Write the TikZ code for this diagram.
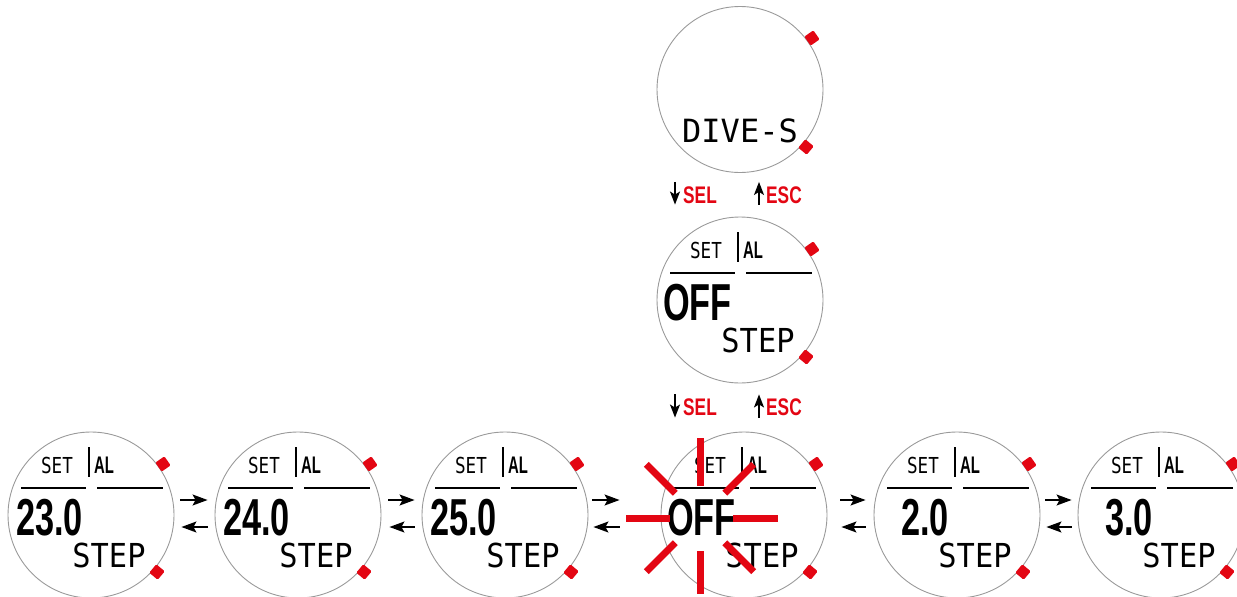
\documentclass[tikz,border=0pt]{standalone}
\usepackage{fontspec}
\setmainfont{Liberation Sans}
\newfontfamily\lcdmono{DejaVu Sans Mono}
\usetikzlibrary{arrows.meta}
\definecolor{wred}{HTML}{E30613}
\definecolor{wgray}{HTML}{9A9A9A}
\newcommand\lcdset{\scalebox{0.8}[1]{\lcdmono\fontsize{22}{22}\selectfont SET}}
\newcommand\lcdal{\scalebox{0.62}[1]{\bfseries\fontsize{24}{24}\selectfont AL}}
\newcommand\lcdstep{\scalebox{0.92}[1]{\lcdmono\fontsize{33}{33}\selectfont STEP}}
\newcommand\lcdnum[1]{\scalebox{0.66}[1]{\bfseries\fontsize{52}{52}\selectfont #1}}
\newcommand\keylbl[1]{\scalebox{0.72}[1]{\bfseries\fontsize{24}{24}\selectfont #1}}
\tikzset{
  watch/.style={circle, draw=wgray, line width=0.9pt, minimum size=166pt, inner sep=0pt},
  btn/.style={fill=wred, minimum size=11pt, inner sep=0pt, rounded corners=1.2pt},
  lcd/.style={inner sep=0pt, text=black},
  rulel/.style={line width=1.4pt, black},
  barl/.style={line width=1.8pt, black},
  navarrow/.style={line width=1.4pt, -{Stealth[length=15pt,width=11pt,inset=3pt]}},
  keyarrow/.style={line width=1.5pt, -{Stealth[length=13pt,width=10pt,inset=3pt]}},
  keytext/.style={inner sep=0pt, text=wred, anchor=west},
  ray/.style={wred, line width=7pt}
}
\newcommand\drawwatch[4]{%
  \node[watch] (#1) at (#2,#3) {};
  \node[btn, rotate=35] (#1-up) at ({#2+72},{#3-51}) {};
  \node[btn, rotate=-40] (#1-dn) at ({#2+66},{#3+57}) {};
  \node[lcd] (#1-set) at ({#2-34},{#3-50}) {\lcdset};
  \draw[barl] ({#2-2},{#3-68}) -- ({#2-2},{#3-38});
  \node[lcd] (#1-al) at ({#2+13},{#3-50}) {\lcdal};
  \draw[rulel] ({#2-70},{#3-27}) -- ({#2-5},{#3-27});
  \draw[rulel] ({#2+6},{#3-27}) -- ({#2+72},{#3-27});
  \node[lcd, anchor=east] (#1-num) at ({#2-8},{#3+3}) {\lcdnum{#4}};
  \node[lcd] (#1-step) at ({#2+18},{#3+40}) {\lcdstep};
}
\begin{document}
\begin{tikzpicture}[x=1pt, y=-1pt]
\useasboundingbox (0,0) rectangle (1237,597);
% top watch
\node[watch] (w0) at (740,89.5) {};
\node[btn, rotate=35] (w0-up) at (812,38) {};
\node[btn, rotate=-40] (w0-dn) at (806,147) {};
\node[lcd] (w0-txt) at (740,131) {\lcdmono\fontsize{32}{32}\selectfont DIVE-S};
% second watch
\drawwatch{w1}{740}{300}{OFF}
% bottom row
\drawwatch{c1}{91}{515}{23.0}
\drawwatch{c2}{298}{515}{24.0}
\drawwatch{c3}{505}{515}{25.0}
\drawwatch{c4}{744}{515}{OFF}
\drawwatch{c5}{957}{515}{2.0}
\drawwatch{c6}{1161}{515}{3.0}
% SEL / ESC between w0 and w1
\draw[keyarrow] ([xshift=-65pt,yshift=-9pt]w0.south) -- ([xshift=-65pt,yshift=12pt]w1.north);
\node[keytext] (sel1) at (683,195) {\keylbl{SEL}};
\draw[keyarrow] ([xshift=19pt,yshift=12pt]w1.north) -- ([xshift=19pt,yshift=-9pt]w0.south);
\node[keytext] (esc1) at (766,195) {\keylbl{ESC}};
% SEL / ESC between w1 and c4
\draw[keyarrow] ([xshift=-65pt,yshift=-11pt]w1.south) -- ([xshift=-69pt,yshift=14pt]c4.north);
\node[keytext] (sel2) at (683,407) {\keylbl{SEL}};
\draw[keyarrow] ([xshift=15pt,yshift=14pt]c4.north) -- ([xshift=19pt,yshift=-11pt]w1.south);
\node[keytext] (esc2) at (766,407) {\keylbl{ESC}};
% horizontal arrows
\draw[navarrow] ([xshift=6pt,yshift=15pt]c1.east) -- ([xshift=-7pt,yshift=15pt]c2.west);
\draw[navarrow] ([xshift=-7pt,yshift=-12pt]c2.west) -- ([xshift=7pt,yshift=-12pt]c1.east);
\draw[navarrow] ([xshift=7pt,yshift=15pt]c2.east) -- ([xshift=-7pt,yshift=15pt]c3.west);
\draw[navarrow] ([xshift=-7pt,yshift=-12pt]c3.west) -- ([xshift=8pt,yshift=-12pt]c2.east);
\draw[navarrow] ([xshift=4pt,yshift=15pt]c3.east) -- ([xshift=-41pt,yshift=15pt]c4.west);
\draw[navarrow] ([xshift=-41pt,yshift=-12pt]c4.west) -- ([xshift=5pt,yshift=-12pt]c3.east);
\draw[navarrow] ([xshift=13pt,yshift=15pt]c4.east) -- ([xshift=-8pt,yshift=15pt]c5.west);
\draw[navarrow] ([xshift=-8pt,yshift=-12pt]c5.west) -- ([xshift=14pt,yshift=-12pt]c4.east);
\draw[navarrow] ([xshift=5pt,yshift=15pt]c5.east) -- ([xshift=-6pt,yshift=15pt]c6.west);
\draw[navarrow] ([xshift=-6pt,yshift=-12pt]c6.west) -- ([xshift=6pt,yshift=-12pt]c5.east);
% flashing rays
\coordinate (flash) at (700,518);
\foreach \a/\ri/\ro in {0/33/78, 45/35/76, 90/32/80, 135/35/76, 180/30/74, 225/35/76, 270/33/76, 315/35/76}
  \draw[ray] ([shift={(\a:\ri pt)}]flash) -- ([shift={(\a:\ro pt)}]flash);
\end{tikzpicture}
\end{document}
